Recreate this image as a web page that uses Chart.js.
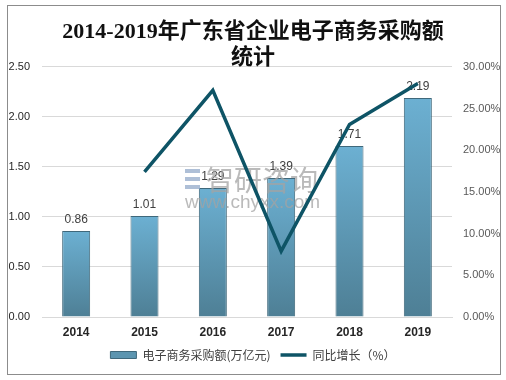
<!DOCTYPE html>
<html>
<head>
<meta charset="utf-8">
<script src="https://cdn.jsdelivr.net/npm/chart.js@4.4.1/dist/chart.umd.min.js"></script>
<style>
html,body{margin:0;padding:0;background:#fff;}
#wrap{position:relative;width:506px;height:380px;}
</style>
</head>
<body>
<div id="wrap"><canvas id="c" width="506" height="380"></canvas></div>
<script>
const years = ['2014', '2015', '2016', '2017', '2018', '2019'];
const purchaseAmount = [0.86, 1.01, 1.29, 1.39, 1.71, 2.19];
const yoyGrowth = [null, 17.4, 27.2, 7.9, 23.1, 28.0];
const leftTicks = [0, 0.5, 1.0, 1.5, 2.0, 2.5];
const rightTicks = [0, 5, 10, 15, 20, 25, 30];
const titleLines = ['2014-2019年广东省企业电子商务采购额', '统计'];
const seriesNames = ['电子商务采购额(万亿元)', '同比增长（%）'];

const frame = {
  id: 'frame',
  afterDraw(chart) {
    const ctx = chart.ctx;
    ctx.save();
    ctx.strokeStyle = '#8c8c8c';
    ctx.lineWidth = 1;
    ctx.strokeRect(7.5, 5.5, 493, 369);
    ctx.restore();
  }
};

const barLabels = {
  id: 'barLabels',
  afterDatasetDraw(chart, args) {
    if (args.index !== 0) return;
    const ctx = chart.ctx;
    ctx.save();
    ctx.font = '12px "Liberation Sans", Arial, sans-serif';
    ctx.fillStyle = '#404040';
    ctx.textAlign = 'center';
    ctx.textBaseline = 'bottom';
    args.meta.data.forEach((el, i) => {
      ctx.fillText(purchaseAmount[i].toFixed(2), el.x, el.y - 5);
    });
    // watermark
    const a = chart.chartArea;
    const cx = (a.left + a.right) / 2 + 6;
    ctx.globalAlpha = 0.75;
    ctx.fillStyle = '#a3a3a3';
    ctx.textAlign = 'left';
    ctx.textBaseline = 'middle';
    ctx.font = '28px "Noto Sans CJK SC", sans-serif';
    ctx.fillText('智研咨询', cx - 47, 180);
    ctx.font = '19px "Liberation Sans", Arial, sans-serif';
    ctx.fillText('www.chyxx.com', cx - 68, 203);
    ctx.fillStyle = '#93a9c9';
    ctx.fillRect(cx - 68, 169, 15, 4);
    ctx.fillRect(cx - 68, 177, 15, 4);
    ctx.fillRect(cx - 68, 185, 15, 4);
    ctx.restore();
  }
};

function barGradient(context) {
  const chart = context.chart;
  const area = chart.chartArea;
  if (!area) return '#5e9ab8';
  const ys = chart.scales.y;
  const v = context.raw == null ? 1 : context.raw;
  const top = ys.getPixelForValue(v);
  const bottom = ys.getPixelForValue(0);
  const g = chart.ctx.createLinearGradient(0, top, 0, bottom);
  g.addColorStop(0, '#6cb0d2');
  g.addColorStop(1, '#4e7f95');
  return g;
}

new Chart(document.getElementById('c'), {
  data: {
    labels: years,
    datasets: [
      {
        type: 'bar',
        label: seriesNames[0],
        data: purchaseAmount,
        yAxisID: 'y',
        backgroundColor: barGradient,
        borderColor: '#3f687b',
        borderWidth: 1,
        categoryPercentage: 1,
        barPercentage: 0.41,
        order: 2
      },
      {
        type: 'line',
        label: seriesNames[1],
        data: yoyGrowth,
        yAxisID: 'y2',
        borderColor: '#0e5466',
        backgroundColor: '#0e5466',
        borderWidth: 3.5,
        pointRadius: 0,
        tension: 0,
        order: 1
      }
    ]
  },
  options: {
    responsive: false,
    animation: false,
    layout: { padding: { top: 5, left: 0, right: 0, bottom: 9 } },
    plugins: {
      title: {
        display: true,
        text: titleLines,
        color: '#111',
        font: { family: '"Liberation Serif", "Noto Sans CJK SC", serif', size: 22, weight: 'bold', lineHeight: 1.18 },
        padding: { top: 14, bottom: -4 }
      },
      legend: {
        position: 'bottom',
        labels: {
          color: '#404040',
          font: { family: '"Noto Sans CJK SC", sans-serif', size: 12 },
          usePointStyle: true,
          pointStyleWidth: 26,
          boxHeight: 7,
          padding: 10,
          sort: (a, b) => a.datasetIndex - b.datasetIndex,
          generateLabels(chart) {
            const items = Chart.defaults.plugins.legend.labels.generateLabels(chart);
            items.forEach(it => {
              if (it.datasetIndex === 0) {
                it.fillStyle = '#5c95b0';
                it.strokeStyle = '#3f687b';
                it.lineWidth = 1;
                it.pointStyle = 'rect';
              } else {
                it.pointStyle = 'line';
                it.strokeStyle = '#0e5466';
                it.lineWidth = 3.5;
              }
            });
            return items;
          }
        }
      },
      tooltip: { enabled: false }
    },
    scales: {
      x: {
        afterFit(s) { s.height = 22; },
        grid: { display: false, drawTicks: false },
        border: { display: true, color: '#d9d9d9' },
        ticks: { color: '#262626', font: { family: '"Liberation Sans", Arial, sans-serif', size: 12, weight: 'bold' }, padding: 8 }
      },
      y: {
        position: 'left',
        min: 0, max: 2.5,
        afterBuildTicks(s) { s.ticks = leftTicks.map(v => ({ value: v })); },
        afterFit(s) { s.width = 42; },
        grid: { color: '#d9d9d9', drawTicks: false },
        border: { display: false },
        ticks: {
          color: '#262626',
          font: { family: '"Liberation Sans", Arial, sans-serif', size: 11 },
          padding: 12,
          callback: v => Number(v).toFixed(2)
        }
      },
      y2: {
        position: 'right',
        min: 0, max: 30,
        afterBuildTicks(s) { s.ticks = rightTicks.map(v => ({ value: v })); },
        afterFit(s) { s.width = 54; },
        grid: { display: false, drawTicks: false },
        border: { display: false },
        ticks: {
          color: '#595959',
          font: { family: '"Liberation Sans", Arial, sans-serif', size: 11 },
          padding: 11,
          callback: v => Number(v).toFixed(2) + '%'
        }
      }
    }
  },
  plugins: [barLabels, frame]
});
</script>
</body>
</html>
